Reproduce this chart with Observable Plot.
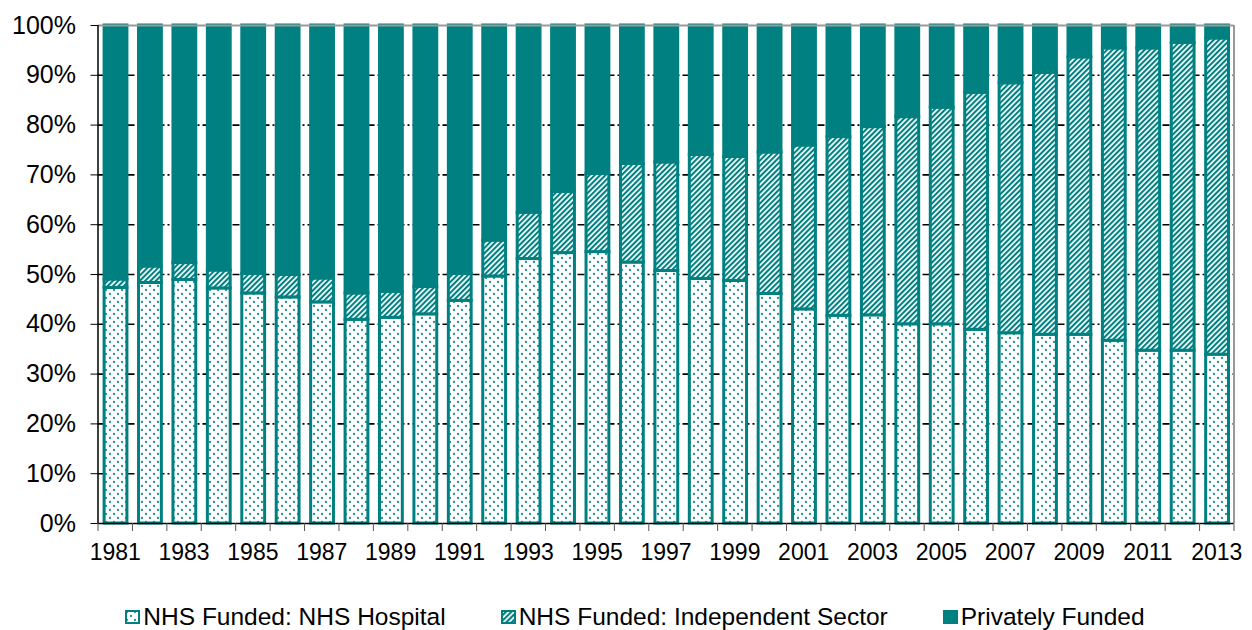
<!DOCTYPE html>
<html>
<head>
<meta charset="utf-8">
<script src="https://cdn.jsdelivr.net/npm/d3@7"></script>
<script src="https://cdn.jsdelivr.net/npm/@observablehq/plot@0.6"></script>
<style>
  html, body { margin: 0; padding: 0; background: #fff; }
  body { width: 1252px; height: 630px; overflow: hidden; font-family: "Liberation Sans", Arial, sans-serif; }
  #legend { display: flex; justify-content: center; align-items: center; gap: 55px; margin-top: 28px; margin-left: 18px; font-size: 24.5px; line-height: 28px; color: #000; }
  #legend .item { display: flex; align-items: center; }
  #legend svg { margin-right: 3px; }
</style>
</head>
<body>
<div id="chart"></div>
<div id="legend"></div>
<script>
const years = [1981,1982,1983,1984,1985,1986,1987,1988,1989,1990,1991,1992,1993,1994,1995,1996,1997,1998,1999,2000,2001,2002,2003,2004,2005,2006,2007,2008,2009,2010,2011,2012,2013];
const nhsHospital = [47.3,48.3,48.9,47.2,46.2,45.4,44.4,40.9,41.3,42.0,44.7,49.6,53.1,54.3,54.5,52.4,50.7,49.1,48.7,46.1,43.0,41.7,41.8,40.0,40.0,38.9,38.2,37.9,37.9,36.7,34.7,34.7,33.9];
const nhsIndependent = [1.7,3.3,3.4,3.6,3.9,4.5,4.8,5.3,5.2,5.5,5.4,7.2,9.3,12.3,15.7,19.8,21.8,24.9,24.9,28.4,32.9,35.9,37.8,41.6,43.5,47.6,50.2,52.6,55.7,58.7,60.7,61.8,63.5];
const privatelyFunded = [51.0,48.4,47.7,49.2,49.9,50.1,50.8,53.8,53.5,52.5,49.9,43.2,37.6,33.4,29.8,27.8,27.5,26.0,26.4,25.5,24.1,22.4,20.4,18.4,16.5,13.5,11.6,9.5,6.4,4.6,4.6,3.5,2.6];
const seriesNames = ["NHS Funded: NHS Hospital", "NHS Funded: Independent Sector", "Privately Funded"];
const yTicks = [0,10,20,30,40,50,60,70,80,90,100];
const gridTicks = [10,20,30,40,50,60,70,80,90];
const xLabelYears = [1981,1983,1985,1987,1989,1991,1993,1995,1997,1999,2001,2003,2005,2007,2009,2011,2013];

const teal = "#008080";
const fills = ["url(#dots)", "url(#hatch)", teal];
const seriesValues = [nhsHospital, nhsIndependent, privatelyFunded];

const stacked = seriesValues.map((vals, s) => years.map((year, i) => {
  let base = 0;
  for (let k = 0; k < s; k++) base += seriesValues[k][i];
  return {year, series: seriesNames[s], y1: base, y2: base + vals[i]};
}));

const boundaries = years.map(y => y - 0.5).concat([years[years.length - 1] + 0.5]);
const xDomain = [boundaries[0], boundaries[boundaries.length - 1]];

const chart = Plot.plot({
  width: 1252,
  height: 575,
  marginLeft: 97.5,
  marginRight: 18.5,
  marginTop: 25,
  marginBottom: 52,
  style: {fontFamily: "'Liberation Sans', Arial, sans-serif", background: "white", overflow: "visible"},
  x: {type: "linear", domain: xDomain},
  y: {domain: [0, 100]},
  marks: [
    Plot.ruleY(gridTicks, {stroke: "black", strokeWidth: 1.6, strokeDasharray: "7,3,2,3"}),
    ...stacked.map((rows, s) => Plot.rect(rows, {
      x1: d => d.year - 0.5,
      x2: d => d.year + 0.5,
      y1: "y1",
      y2: "y2",
      fill: fills[s],
      stroke: teal,
      strokeWidth: 3,
      insetLeft: 6.6,
      insetRight: 5
    })),
    Plot.ruleY([100], {stroke: "#999", strokeWidth: 2}),
    Plot.ruleX([xDomain[1]], {stroke: "#999", strokeWidth: 2}),
    Plot.ruleX([xDomain[0]], {stroke: "black", strokeWidth: 1.5}),
    Plot.ruleY([0], {stroke: "black", strokeWidth: 1.5}),
    Plot.axisY({ticks: yTicks, tickFormat: d => d + "%", tickSize: 7, tickPadding: 15, fontSize: 25, color: "black", label: null}),
    Plot.axisX({ticks: boundaries, tickSize: 8, tickFormat: () => "", stroke: "#555", label: null}),
    Plot.axisX({ticks: xLabelYears, tickSize: 0, tickPadding: 20, tickFormat: d => String(d), fontSize: 23, color: "black", label: null})
  ]
});

const defs = `
<defs>
  <pattern id="dots" width="8" height="8" patternUnits="userSpaceOnUse">
    <rect width="8" height="8" fill="white"/>
    <circle cx="2" cy="2" r="1.15" fill="#1f9390"/>
    <circle cx="6" cy="6" r="1.15" fill="#1f9390"/>
  </pattern>
  <pattern id="hatch" width="3.8" height="3.8" patternUnits="userSpaceOnUse" patternTransform="rotate(45)">
    <rect width="3.8" height="3.8" fill="white"/>
    <rect width="2.1" height="3.8" fill="${teal}"/>
  </pattern>
</defs>`;
chart.insertAdjacentHTML("afterbegin", defs);
document.getElementById("chart").appendChild(chart);

const legend = document.getElementById("legend");
seriesNames.forEach((name, s) => {
  const item = document.createElement("div");
  item.className = "item";
  item.innerHTML = `<svg width="15" height="14"><rect x="1" y="1" width="13" height="12" fill="${fills[s]}" stroke="${teal}" stroke-width="2"/></svg><span>${name}</span>`;
  legend.appendChild(item);
});
</script>
</body>
</html>
